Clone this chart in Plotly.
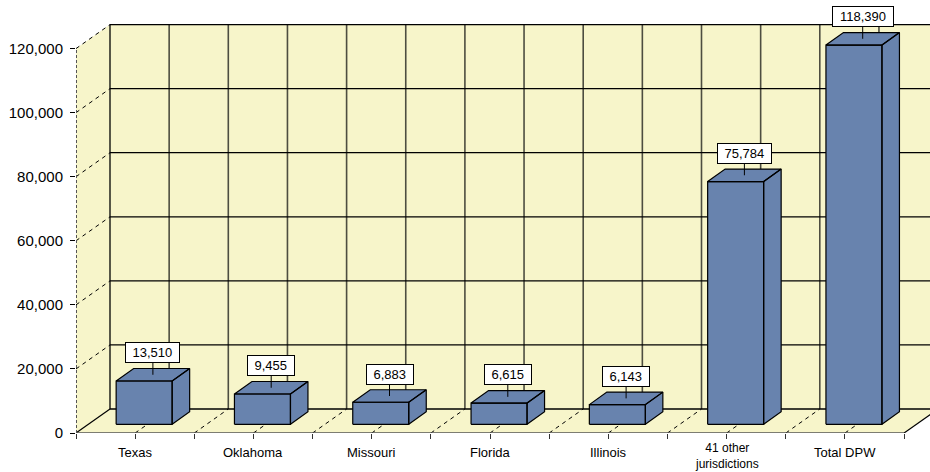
import plotly.graph_objects as go

# ---- data -----------------------------------------------------------------
categories = ["Texas", "Oklahoma", "Missouri", "Florida", "Illinois",
              "41 other<br>jurisdictions", "Total DPW"]
values = [13510, 9455, 6883, 6615, 6143, 75784, 118390]
y_tick_values = [0, 20000, 40000, 60000, 80000, 100000, 120000]

# ---- geometry (pixel sizes converted to axis units) ------------------------
FIG_W, FIG_H = 930, 472
M_L, M_R, M_T, M_B = 76, 0, 0, 39
PLOT_W, PLOT_H = FIG_W - M_L - M_R, FIG_H - M_T - M_B

CAT_PX = 118.3            # pixels per category
VAL_PX = 64.07 / 20000    # pixels per value unit
PX_X = 1 / CAT_PX
PX_Y = 1 / VAL_PX

X_RANGE = [-0.5, -0.5 + PLOT_W * PX_X]
Y_RANGE = [0, PLOT_H * PX_Y]

WALL_DX, WALL_DY = 34 * PX_X, 24 * PX_Y       # depth of the floor / side wall
BAR_W = 56 * PX_X                             # width of a bar's front face
BAR_DX, BAR_DY = 17.5 * PX_X, 12.5 * PX_Y      # depth of a bar
BAR_SHIFT_X, BAR_BASE = 9 * PX_X, 8.7 * PX_Y   # front face placement on the floor

WALL = "#F7F5CA"
BAR = "#6883AE"
n = len(categories)
x_left, x_right = -0.5, n - 0.5

fig = go.Figure()


def poly(xs, ys, fill, line_color="black", width=1, dash="solid"):
    fig.add_trace(go.Scatter(
        x=xs, y=ys, mode="lines", fill="toself" if fill else None,
        fillcolor=fill, line=dict(color=line_color, width=width, dash=dash),
        hoverinfo="skip", showlegend=False))


def segs(pairs, color="black", width=1, dash="solid"):
    xs, ys = [], []
    for (xa, ya), (xb, yb) in pairs:
        xs += [xa, xb, None]
        ys += [ya, yb, None]
    fig.add_trace(go.Scatter(x=xs, y=ys, mode="lines",
                             line=dict(color=color, width=width, dash=dash),
                             hoverinfo="skip", showlegend=False))


top_val = y_tick_values[-1]

# back wall, side wall and floor
poly([x_left + WALL_DX, x_right + WALL_DX, x_right + WALL_DX, x_left + WALL_DX],
     [WALL_DY, WALL_DY, top_val + WALL_DY, top_val + WALL_DY], WALL, WALL, 0)
poly([x_left, x_left + WALL_DX, x_left + WALL_DX, x_left],
     [0, WALL_DY, top_val + WALL_DY, top_val], WALL, WALL, 0)
poly([x_left, x_right, x_right + WALL_DX, x_left + WALL_DX],
     [0, 0, WALL_DY, WALL_DY], WALL, WALL, 0)

# back wall gridlines
half_steps = [x_left + k * 0.5 for k in range(2 * n + 1)]
segs([((hx + WALL_DX, WALL_DY), (hx + WALL_DX, top_val + WALL_DY))
      for hx in half_steps[1:]], color="#4d4d40", width=1.6)
segs([((x_left + WALL_DX, v + WALL_DY), (x_right + WALL_DX, v + WALL_DY))
      for v in y_tick_values], color="black", width=1.3)
segs([((x_left + WALL_DX, WALL_DY), (x_left + WALL_DX, top_val + WALL_DY))],
     color="black", width=1.3)

# side wall and floor dashed guides
segs([((x_left, v), (x_left + WALL_DX, v + WALL_DY)) for v in y_tick_values[1:]],
     color="black", width=1, dash="4px,4px")
segs([((hx, 0), (hx + WALL_DX, WALL_DY)) for hx in half_steps[1:-1]],
     color="black", width=1, dash="4px,4px")

# solid floor edges
segs([((x_left, 0), (x_left + WALL_DX, WALL_DY)),
      ((x_right, 0), (x_right + WALL_DX, WALL_DY))], color="black", width=1.2)
segs([((x_left, 0), (x_right, 0))], color="#555555", width=1.6)
segs([((x_left, 0), (x_left, top_val))], color="#555555", width=2, dash="3px,2px")

# pseudo-3D bars
bx, by = [], []
label_pts = []
for i, v in enumerate(values):
    x0 = i + BAR_SHIFT_X - BAR_W / 2
    x1 = x0 + BAR_W
    y0 = BAR_BASE
    y1 = BAR_BASE + v
    faces = [
        ([x0, x1, x1, x0, x0], [y0, y0, y1, y1, y0]),
        ([x0, x1, x1 + BAR_DX, x0 + BAR_DX, x0], [y1, y1, y1 + BAR_DY, y1 + BAR_DY, y1]),
        ([x1, x1 + BAR_DX, x1 + BAR_DX, x1, x1], [y0, y0 + BAR_DY, y1 + BAR_DY, y1, y0]),
    ]
    for fx, fy in faces:
        bx += fx + [None]
        by += fy + [None]
    label_pts.append(((x0 + x1) / 2 + BAR_DX / 2, y1 + BAR_DY / 2, v))

fig.add_trace(go.Scatter(x=bx, y=by, mode="lines", fill="toself", fillcolor=BAR,
                         line=dict(color="black", width=1.2),
                         hoverinfo="skip", showlegend=False))

FONT = "Arial, 'Liberation Sans', sans-serif"
LABEL_SIZE = 13
CHAR_EM = {",": 0.278}


def text_width(s):
    return sum(CHAR_EM.get(c, 0.556) for c in s) * LABEL_SIZE


# value callouts above each bar
for lx, ly, v in label_pts:
    txt = f"{v:,}"
    fig.add_annotation(x=lx, y=ly, text=txt, showarrow=True, arrowhead=0,
                       arrowwidth=1, arrowcolor="black", ax=0, ay=-22,
                       standoff=0, bgcolor="white", bordercolor="black",
                       borderwidth=1, borderpad=2, width=text_width(txt) + 9,
                       font=dict(family=FONT, size=LABEL_SIZE, color="black"))

# category names under the front edge
for i, name in enumerate(categories):
    two_lines = "<br>" in name
    fig.add_annotation(x=i, y=0, text=name, showarrow=False,
                       xanchor="center", yanchor="top", borderpad=0,
                       yshift=-(11 if not two_lines else 7),
                       font=dict(family=FONT, size=13 if not two_lines else 12,
                                 color="black"))

fig.update_layout(
    width=FIG_W, height=FIG_H,
    margin=dict(l=M_L, r=M_R, t=M_T, b=M_B),
    paper_bgcolor="white", plot_bgcolor="white",
    showlegend=False,
    xaxis=dict(range=X_RANGE, showgrid=False, zeroline=False, showline=False,
               tickmode="array", tickvals=half_steps,
               ticktext=[""] * len(half_steps),
               ticks="outside", ticklen=5, tickcolor="#333333", tickwidth=1.3,
               automargin=False, fixedrange=True),
    yaxis=dict(range=Y_RANGE, showgrid=False, zeroline=False, showline=False,
               tickmode="array", tickvals=y_tick_values,
               ticktext=[f"{v:,}" for v in y_tick_values],
               ticks="outside", ticklen=5, tickcolor="black", tickwidth=1.3,
               tickfont=dict(family=FONT, size=15, color="black"),
               ticklabelstandoff=4, automargin=False, fixedrange=True),
)

fig.write_html("out.html")
